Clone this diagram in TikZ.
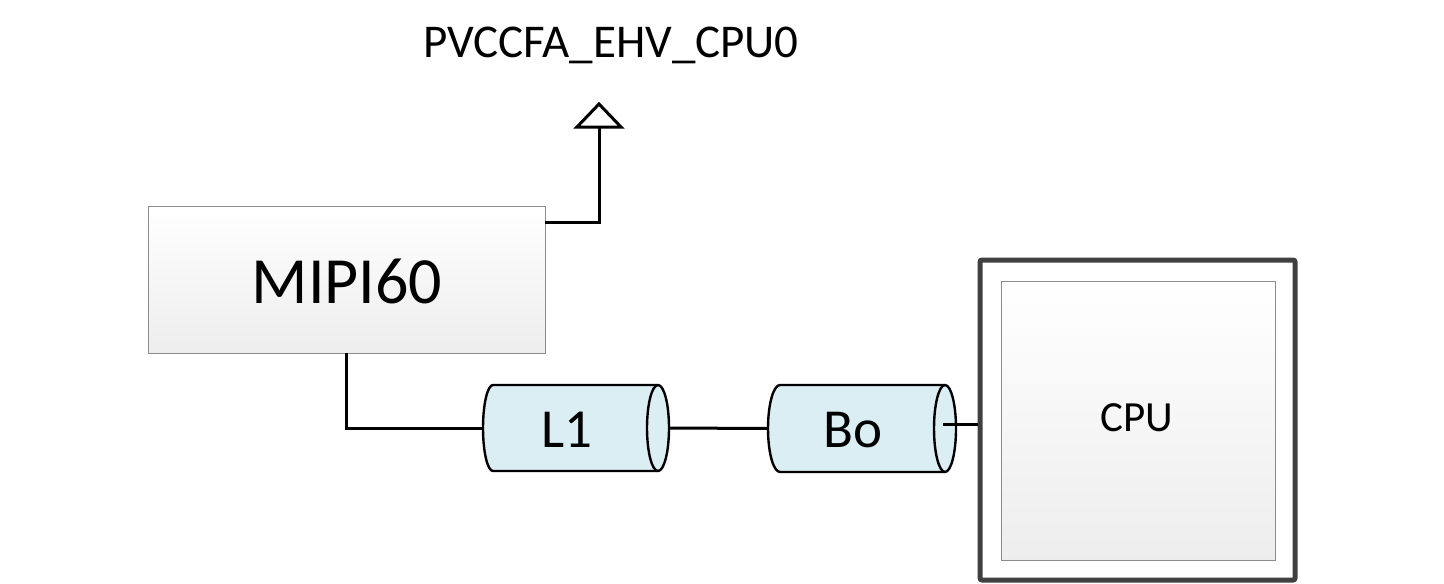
\documentclass[tikz,border=0pt]{standalone}
\usepackage{fontspec}
\setmainfont{Carlito}
\definecolor{cylblue}{HTML}{DAEEF3}
\definecolor{boxedge}{HTML}{8C8C8C}
\definecolor{cpuedge}{HTML}{404040}
\begin{document}
\begin{tikzpicture}[x=0.5pt,y=-0.5pt,
  gradbox/.style={draw=boxedge,line width=0.5pt,top color=white,bottom color=black!7,inner sep=0pt,outer sep=0pt},
  wire/.style={line width=1.5pt,black},
  cylbody/.style={draw=black,line width=1.2pt,fill=cylblue},
  cylnode/.style={inner sep=0pt,outer sep=0pt,draw=none},
  lbl/.style={inner sep=0pt,text=black}]
\useasboundingbox (0,0) rectangle (1444,583);
% MIPI60 box
\node[gradbox,minimum width=198.5pt,minimum height=73.5pt] (MIPI) at (346.5,279.5) {};
\node[lbl,font=\fontsize{33pt}{36pt}\selectfont] (MIPIt) at (347,281) {MIPI60};
% power label and arrow
\node[lbl,font=\fontsize{23.5pt}{26pt}\selectfont] (pwr) at (611,45) {PVCCFA\_EHV\_CPU0};
\coordinate (pwrbase) at (599,127);
\draw[wire,line join=miter] ([yshift=-8pt]MIPI.north east) -| (pwrbase);
\draw[wire,fill=white,line join=miter] ([xshift=-11pt]pwrbase) -- ([yshift=11.5pt]pwrbase) -- ([xshift=11pt]pwrbase) -- cycle;
% L1 cylinder
\node[cylnode,minimum width=82.5pt,minimum height=43pt] (L1) at (575.5,428) {};
\draw[cylbody] (L1.north west) -- (L1.north east) arc[start angle=90,end angle=-90,x radius=5.5pt,y radius=21.5pt] -- (L1.south west) arc[start angle=270,end angle=90,x radius=5pt,y radius=21.5pt] -- cycle;
\draw[line width=1.2pt] (L1.north east) arc[start angle=90,end angle=270,x radius=5.5pt,y radius=21.5pt];
\node[lbl,font=\fontsize{27.5pt}{30pt}\selectfont] (L1t) at (567,430) {L1};
% Bo cylinder
\node[cylnode,minimum width=82.5pt,minimum height=43.5pt] (Bo) at (862.5,428.5) {};
\draw[cylbody] (Bo.north west) -- (Bo.north east) arc[start angle=90,end angle=-90,x radius=5.5pt,y radius=21.75pt] -- (Bo.south west) arc[start angle=270,end angle=90,x radius=6pt,y radius=21.75pt] -- cycle;
\draw[line width=1.2pt] (Bo.north east) arc[start angle=90,end angle=270,x radius=5.5pt,y radius=21.75pt];
\node[lbl,font=\fontsize{27.5pt}{30pt}\selectfont] (Bot) at (853,430) {Bo};
% CPU
\node[draw=cpuedge,line width=2.5pt,fill=white,rounded corners=1pt,minimum width=157.5pt,minimum height=160pt,inner sep=0pt] (CPUo) at (1137.5,420) {};
\node[gradbox,minimum width=137pt,minimum height=139.5pt] (CPUi) at (1138,420.5) {};
\node[lbl,font=\fontsize{21.5pt}{24pt}\selectfont] (CPUt) at (1137,418) {CPU};
% connectors
\draw[wire,line join=miter] (MIPI.south) |- ([xshift=-5pt]L1.west);
\draw[wire] ([xshift=5.5pt]L1.east) -- ([xshift=-6pt]Bo.west);
\coordinate (boout) at (943,424);
\draw[wire] (boout) -- (boout -| CPUo.west);
\end{tikzpicture}
\end{document}
